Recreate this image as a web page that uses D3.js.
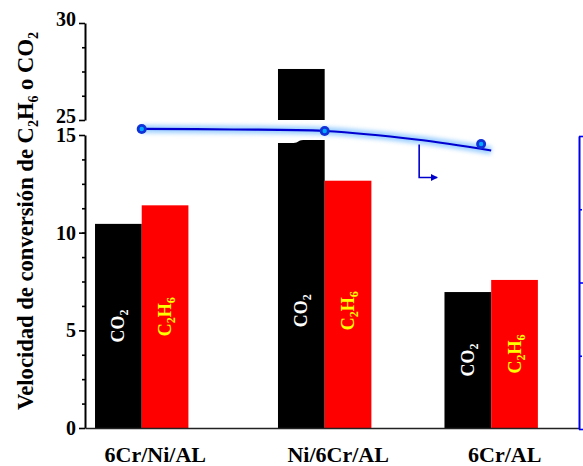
<!DOCTYPE html>
<html>
<head>
<meta charset="utf-8">
<script src="https://cdnjs.cloudflare.com/ajax/libs/d3/7.8.5/d3.min.js"></script>
<style>
body { margin: 0; background: #fff; }
text { font-family: "Liberation Serif", "Times New Roman", serif; font-weight: bold; }
</style>
</head>
<body>
<div id="chart"></div>
<script>
// catalysts and their position on the x axis (plot units)
var catalysts = ["6Cr/Ni/AL", "Ni/6Cr/AL", "6Cr/AL"];
var catalystX = [1, 2, 2.91];

// conversion rate (left axis)
var co2Rate = [10.45, 27.63, 6.96];
var c2h6Rate = [11.4, 12.66, 7.58];

// blue series (right axis) : measured points and the fitted curve
var pointX = [1, 2, 2.855];
var pointValues = [40.96, 40.68, 38.91];
var fitX = [1, 1.5, 2, 2.5, 2.91];
var fitValues = [40.96, 40.89, 40.68, 39.52, 38.02];

// tick labels
var lowTicks = [0, 5, 10, 15];
var highTicks = [25, 30];
var rightTicks = [0, 20, 40];

var width = 583, height = 466;
var left = 85, right = 579, bottom = 428;

var svg = d3.select("#chart")
  .append("svg")
    .attr("width", width)
    .attr("height", height);

// scales - the left axis is broken between 15 and 25
var x = d3.scaleLinear().domain([0.69, 3.39]).range([left, right]);
var yLow = d3.scaleLinear().domain([0, 15]).range([bottom, 135]);
var yHigh = d3.scaleLinear().domain([25, 30]).range([120, 23]);
var yRight = d3.scaleLinear().domain([0, 40]).range([429, 136]);
var barW = 46.7;

// glow filter for the blue line
var defs = svg.append("defs");
defs.append("filter")
    .attr("id", "glow")
    .attr("x", "-10%").attr("y", "-200%")
    .attr("width", "120%").attr("height", "500%")
  .append("feGaussianBlur")
    .attr("stdDeviation", 2);
defs.append("marker")
    .attr("id", "arrow")
    .attr("viewBox", "0 0 10 10")
    .attr("refX", 9).attr("refY", 5)
    .attr("markerWidth", 7).attr("markerHeight", 7)
    .attr("markerUnits", "userSpaceOnUse")
    .attr("orient", "auto")
  .append("path")
    .attr("d", "M0,0 L10,5 L0,10 Z")
    .attr("fill", "#0000cc");

// bars
var bars = [];
catalysts.forEach(function(c, i) {
  bars.push({gas: "CO2", v: co2Rate[i], x0: x(catalystX[i]) - barW, fill: "#000000"});
  bars.push({gas: "C2H6", v: c2h6Rate[i], x0: x(catalystX[i]), fill: "#ff0000"});
});

var gBars = svg.append("g");
gBars.selectAll("rect.low")
  .data(bars)
  .enter()
  .append("rect")
    .attr("class", "low")
    .attr("x", function(d) { return d.x0; })
    .attr("y", function(d) { return yLow(Math.min(d.v, 15)); })
    .attr("width", barW)
    .attr("height", function(d) { return bottom - yLow(Math.min(d.v, 15)); })
    .attr("fill", function(d) { return d.fill; });

var broken = bars.filter(function(d) { return d.v > 25; });
gBars.selectAll("rect.high")
  .data(broken)
  .enter()
  .append("rect")
    .attr("class", "high")
    .attr("x", function(d) { return d.x0; })
    .attr("y", function(d) { return yHigh(d.v); })
    .attr("width", barW)
    .attr("height", function(d) { return yHigh(25) - yHigh(d.v); })
    .attr("fill", function(d) { return d.fill; });

// wavy white cut through the broken bar
gBars.selectAll("path.cut")
  .data(broken)
  .enter()
  .append("path")
    .attr("class", "cut")
    .attr("fill", "#fff")
    .attr("d", function(d) {
      var a = d.x0 - 1, b = d.x0 + barW + 1, w = barW;
      var tL = yHigh(25) + 3, tR = yHigh(25);
      var bL = yLow(15) + 8, bR = yLow(15) + 5;
      return "M" + a + "," + tL +
        " L" + (d.x0 + 0.36 * w) + "," + tL +
        " C" + (d.x0 + 0.47 * w) + "," + tL + " " + (d.x0 + 0.44 * w) + "," + tR + " " + (d.x0 + 0.56 * w) + "," + tR +
        " L" + b + "," + tR + " L" + b + "," + bR +
        " L" + (d.x0 + 0.54 * w) + "," + bR +
        " C" + (d.x0 + 0.42 * w) + "," + bR + " " + (d.x0 + 0.45 * w) + "," + bL + " " + (d.x0 + 0.33 * w) + "," + bL +
        " L" + a + "," + bL + " Z";
    });

// labels inside the bars
var lab = gBars.selectAll("text.gas")
  .data(bars)
  .enter()
  .append("text")
    .attr("class", "gas")
    .attr("text-anchor", "middle")
    .attr("font-size", 18)
    .attr("fill", function(d) { return d.gas == "CO2" ? "#ffffff" : "#ffff00"; })
    .attr("transform", function(d) {
      var cy = (yLow(Math.min(d.v, 12)) + bottom) / 2;
      return "translate(" + (d.x0 + barW / 2 + 6) + "," + cy + ") rotate(-90)";
    });
lab.each(function(d) {
  var t = d3.select(this);
  if (d.gas == "CO2") {
    t.append("tspan").text("CO");
    t.append("tspan").attr("font-size", 12).attr("dy", 4).text("2");
  } else {
    t.append("tspan").text("C");
    t.append("tspan").attr("font-size", 12).attr("dy", 4).text("2");
    t.append("tspan").attr("dy", -4).text("H");
    t.append("tspan").attr("font-size", 12).attr("dy", 4).text("6");
  }
});

// left axis, lower and upper parts
function styleAxis(g, color) {
  g.selectAll("text").attr("font-size", 20).attr("fill", color)
    .style("font-family", "'Liberation Serif', serif").style("font-weight", "bold");
  g.selectAll("line").attr("stroke", color).attr("stroke-width", 1.6);
  g.select(".domain").attr("stroke", color).attr("stroke-width", 2);
}
var gLow = svg.append("g").attr("transform", "translate(" + left + ",0)")
  .call(d3.axisLeft(yLow).tickValues(lowTicks).tickSize(6).tickSizeOuter(0).tickPadding(3));
styleAxis(gLow, "#000");
var gLowMinor = svg.append("g").attr("transform", "translate(" + left + ",0)")
  .call(d3.axisLeft(yLow).tickValues(d3.range(1.25, 15, 1.25)).tickSize(3).tickFormat(""));
gLowMinor.select(".domain").remove();
styleAxis(gLowMinor, "#000");

var gHigh = svg.append("g").attr("transform", "translate(" + left + ",0)")
  .call(d3.axisLeft(yHigh).tickValues(highTicks).tickSize(6).tickSizeOuter(0).tickPadding(3)
    .tickFormat(d3.format("d")));
styleAxis(gHigh, "#000");
gHigh.selectAll("text").attr("y", -4);
var gHighMinor = svg.append("g").attr("transform", "translate(" + left + ",0)")
  .call(d3.axisLeft(yHigh).tickValues([26.25, 27.5, 28.75]).tickSize(3).tickFormat(""));
gHighMinor.select(".domain").remove();
styleAxis(gHighMinor, "#000");

// x axis
var gX = svg.append("g").attr("transform", "translate(0," + bottom + ")")
  .call(d3.axisBottom(x).tickValues(catalystX).tickSize(0).tickSizeOuter(0).tickPadding(18)
    .tickFormat(function(d, i) { return catalysts[i]; }));
gX.select(".domain").attr("stroke", "#222").attr("stroke-width", 1.6);
gX.selectAll("text").attr("font-size", 22).attr("fill", "#000").attr("dx", 13)
  .style("font-family", "'Liberation Serif', serif").style("font-weight", "bold");

// right axis (blue) - its labels sit outside the picture
var gR = svg.append("g").attr("transform", "translate(" + right + ",0)")
  .call(d3.axisRight(yRight).tickValues(rightTicks).tickSize(6).tickSizeOuter(0).tickFormat(""));
styleAxis(gR, "#0000ee");
var gRMinor = svg.append("g").attr("transform", "translate(" + right + ",0)")
  .call(d3.axisRight(yRight).tickValues([10, 30]).tickSize(3).tickFormat(""));
gRMinor.select(".domain").remove();
styleAxis(gRMinor, "#0000ee");

// y axis title
var title = svg.append("text")
  .attr("text-anchor", "middle")
  .attr("font-size", 22.6)
  .attr("fill", "#000")
  .attr("transform", "translate(33,221) rotate(-90)");
title.append("tspan").text("Velocidad de conversión de C");
title.append("tspan").attr("font-size", 14).attr("dy", 5).text("2");
title.append("tspan").attr("dy", -5).text("H");
title.append("tspan").attr("font-size", 14).attr("dy", 5).text("6");
title.append("tspan").attr("dy", -5).text(" o CO");
title.append("tspan").attr("font-size", 14).attr("dy", 5).text("2");

// blue fitted line with glow
var fit = fitX.map(function(v, i) { return [v, fitValues[i]]; });
var line = d3.line()
  .x(function(d) { return x(d[0]); })
  .y(function(d) { return yRight(d[1]); })
  .curve(d3.curveCatmullRom);
svg.append("path")
  .datum(fit)
  .attr("d", line)
  .attr("fill", "none")
  .attr("stroke", "#9fd0ff")
  .attr("stroke-width", 8)
  .attr("filter", "url(#glow)");
svg.append("path")
  .datum(fit)
  .attr("d", line)
  .attr("fill", "none")
  .attr("stroke", "#0000d0")
  .attr("stroke-width", 2.2);

// points
var pts = pointX.map(function(v, i) { return [v, pointValues[i]]; });
svg.selectAll("circle.out")
  .data(pts)
  .enter()
  .append("circle")
    .attr("cx", function(d) { return x(d[0]); })
    .attr("cy", function(d) { return yRight(d[1]); })
    .attr("r", 5)
    .attr("fill", "#1030d8");
svg.selectAll("circle.in")
  .data(pts)
  .enter()
  .append("circle")
    .attr("cx", function(d) { return x(d[0]); })
    .attr("cy", function(d) { return yRight(d[1]); })
    .attr("r", 2.2)
    .attr("fill", "#00a8ff");

// arrow that points to the right axis
var ax = x(2.5) + 3, ay = yRight(fitValues[3]) + 5;
svg.append("path")
  .attr("d", "M" + ax + "," + ay + " V" + (ay + 33) + " H" + (ax + 18))
  .attr("fill", "none")
  .attr("stroke", "#0000cc")
  .attr("stroke-width", 1.6)
  .attr("marker-end", "url(#arrow)");
</script>
</body>
</html>
